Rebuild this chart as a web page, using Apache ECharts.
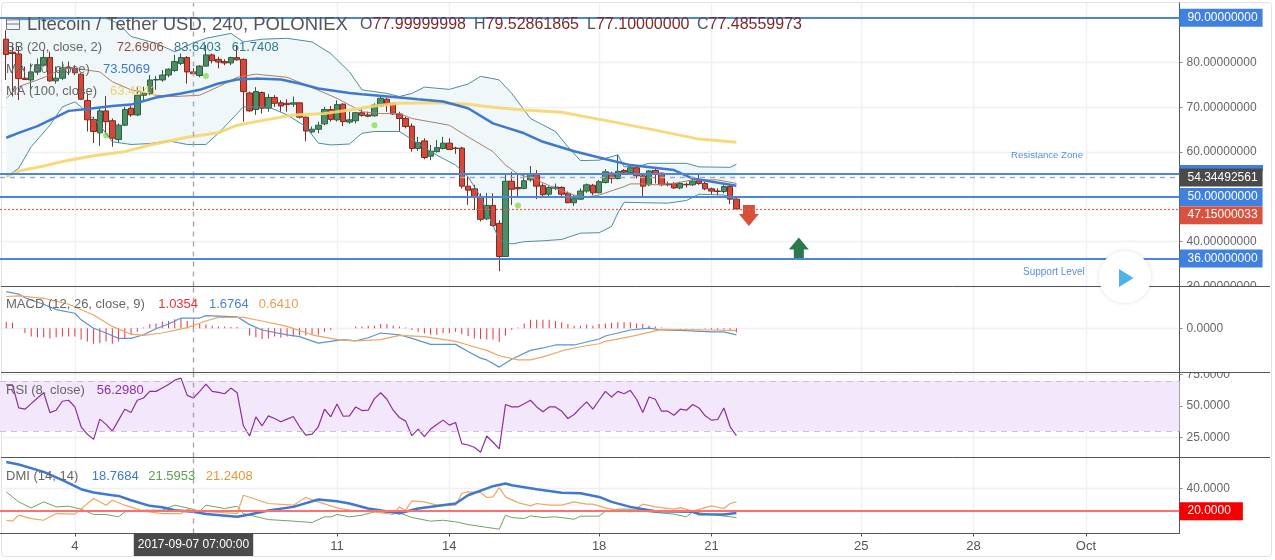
<!DOCTYPE html>
<html>
<head>
<meta charset="utf-8">
<style>html,body{margin:0;padding:0;background:#fff}#main{width:1275px;height:560px}</style>
<script src="https://cdn.jsdelivr.net/npm/echarts@6/dist/echarts.min.js"></script>
</head>
<body>
<div id="main"></div>
<script>
const FONT = '"Liberation Sans", Arial, sans-serif';

// x axis: one empty slot ahead of the first candle, candles are numbered from 0
const SLOT_COUNT = 190;
const tickCandles = [11, 53, 71, 95, 113, 137, 155, 173];
const tickLabels = ['4', '11', '14', '18', '21', '25', '28', 'Oct'];
const crossCandle = 30;
const crossLabel = '2017-09-07 07:00:00';

// open, close, low, high
const candles = [
  [85.2,81.8,76.1,87.2],[82.3,82.0,72.4,84.3],[81.9,76.4,71.6,83.5],[76.5,76.2,76.1,79.1],[76.1,77.9,73.9,79.8],
  [77.9,79.4,77.2,80.9],[79.4,81.1,79.1,82.8],[81.1,75.9,75.7,82.4],[75.9,76.5,75.3,79.1],[76.5,78.8,76.1,80.2],
  [78.8,78.7,77.2,80.2],[78.7,77.7,77.2,79.4],[77.4,71.8,71.6,77.6],[71.5,67.2,64.6,73.1],[67.3,64.6,62.0,67.9],
  [64.3,69.2,61.4,70.1],[69.2,66.8,64.2,72.5],[67.0,63.1,61.2,67.5],[62.8,66.0,62.0,66.4],[66.0,69.5,65.8,70.1],
  [69.8,68.3,67.9,70.3],[68.3,72.7,68.0,74.6],[72.7,73.3,71.2,74.6],[73.1,76.1,72.7,77.2],[76.1,76.2,73.9,77.0],
  [76.1,77.2,75.7,78.3],[77.2,78.5,76.7,78.7],[78.2,80.2,77.9,81.7],[79.8,81.1,79.4,82.0],[81.1,77.9,75.3,81.4],
  [77.9,77.5,77.2,78.7],[77.1,79.2,76.7,79.4],[79.2,81.7,79.1,83.9],[81.7,80.4,79.8,82.0],[80.7,80.1,78.7,81.3],
  [80.2,79.9,79.4,80.7],[79.9,81.1,79.4,81.3],[81.1,80.6,80.4,83.9],[80.7,73.5,66.8,80.9],[73.2,69.2,69.0,73.5],
  [69.5,73.5,68.3,74.5],[73.3,69.8,68.6,73.5],[69.8,72.2,69.0,73.0],[72.2,70.9,70.1,72.7],[71.0,70.3,69.0,71.6],
  [70.9,70.6,69.0,71.8],[70.7,71.0,70.1,72.4],[71.0,67.8,67.5,71.0],[67.8,64.7,62.4,67.9],[64.5,65.1,64.2,65.7],
  [65.1,66.0,64.2,66.8],[66.3,69.5,66.0,70.1],[69.5,67.3,66.8,70.3],[67.2,70.6,66.8,71.6],[70.7,66.8,65.8,70.9],
  [66.7,67.2,66.3,69.0],[67.0,68.8,66.4,69.0],[68.8,68.2,67.9,69.8],[68.3,68.0,67.8,69.0],[68.1,70.5,67.9,70.9],
  [70.3,72.0,70.1,72.4],[71.8,70.7,69.0,72.1],[70.9,68.5,68.3,70.9],[68.5,67.5,64.6,69.0],[67.5,65.7,65.3,67.9],
  [65.8,60.8,60.1,66.4],[60.8,62.1,60.3,63.4],[62.5,58.8,58.4,63.1],[59.1,60.2,58.2,61.6],[60.1,61.0,59.9,62.7],
  [60.8,62.0,60.6,63.4],[62.0,60.6,60.5,63.1],[60.9,60.8,59.6,61.2],[60.9,52.4,51.9,61.2],[52.4,51.5,48.2,54.5],
  [51.8,50.1,47.1,52.7],[50.1,45.0,44.5,50.8],[45.1,48.1,44.8,50.9],[48.1,43.6,43.4,50.8],[44.1,36.7,33.4,44.8],
  [36.7,53.5,36.7,55.3],[53.5,51.7,48.2,55.6],[52.1,51.8,50.1,55.3],[51.9,53.6,51.7,55.3],[53.8,55.0,53.4,56.9],
  [55.0,52.4,49.5,56.0],[52.5,50.5,50.1,53.0],[50.6,52.1,50.2,52.4],[51.9,52.2,51.5,53.0],[52.1,50.6,50.1,52.4],
  [50.8,48.7,48.6,51.2],[48.7,49.6,48.0,50.4],[49.5,51.3,49.3,51.9],[51.3,52.7,50.9,53.0],[52.6,50.9,50.4,52.9],
  [50.9,53.4,50.8,53.8],[53.2,55.6,53.0,56.2],[55.3,54.1,53.0,55.6],[54.1,55.7,53.9,59.4],[55.9,55.5,54.9,56.2],
  [55.4,56.5,55.1,56.9],[56.5,54.7,54.1,56.8],[54.7,52.4,50.2,54.9],[52.7,55.8,52.4,56.0],[55.9,55.1,53.0,56.2],
  [55.3,52.7,52.4,55.4],[52.9,52.7,52.4,53.4],[53.0,52.0,51.8,53.3],[52.0,53.0,51.7,53.4],[52.8,52.7,52.1,53.2],
  [52.7,53.5,52.4,54.5],[53.6,53.0,52.7,55.1],[53.0,51.8,51.5,53.4],[51.8,51.3,50.6,52.1],[51.3,51.2,50.4,51.9],
  [51.2,52.3,50.8,52.7],[52.3,49.5,48.4,52.7],[49.5,47.3,47.2,49.7]
];

// overlays as [candle number, value], read at the turning points of each line
const bbUpper = [[0,89.5],[16,89.9],[18,88.7],[20,85.8],[24,84.3],[27,82.4],[30,84.4],[32,85.4],[36,86.5],[38,84.6],[41,85.2],[45,85.4],[49,84.6],[52,82],[55,77.9],[57,73.9],[61,73.1],[63,72.4],[65,73.1],[67,74.5],[71,74],[74,75.2],[76,76.9],[78,76.4],[79,76.1],[81,73.1],[84,67.5],[88,64.6],[90,61.2],[92,58.1],[95,58.2],[98,59.4],[99,56.7],[102,57.1],[103,57.5],[109,57.5],[111,56.7],[116,56.6],[117,57.3]];
const bbLower = [[0,54.5],[2,56.4],[4,61.2],[7,66],[9,70.1],[11,71.2],[12,70.1],[15,66],[17,62.3],[20,61.7],[23,61.9],[26,62.5],[29,61.7],[32,61.7],[34,64.2],[37,68.6],[38,70.1],[42,70.1],[45,68.3],[48,65.7],[50,62],[52,61.6],[55,61.8],[57,64.2],[59,64.6],[63,64.6],[69,59.3],[72,57.1],[74,54.5],[76,50],[79,40.4],[81,39.5],[83,40],[86,40.2],[89,40.5],[92,41.9],[95,42],[97,43.4],[98,46.4],[99,48.8],[102,48.7],[106,48.6],[109,49.2],[111,50.6],[115,50.4],[116,50],[117,49.6]];
const bbMiddle = [[0,72],[2,74.6],[5,76.1],[7,77.2],[9,78.7],[12,78.5],[15,77.9],[17,75.7],[20,73.9],[24,72.7],[27,72.4],[31,72.7],[34,74.6],[37,76.7],[40,77.4],[45,76.7],[48,75],[53,72],[57,69],[60,68.6],[63,68.6],[65,67.5],[71,66],[74,63.4],[78,60.1],[80,57.1],[82,55.1],[85,53.8],[88,51.9],[91,50.4],[93,50],[95,50.4],[99,52.3],[100,52.9],[102,52.9],[104,52.7],[107,53],[110,53.8],[114,53.8],[117,53]];
const ma50 = [[0,63.2],[2,64.3],[5,65.8],[8,67.8],[10,69.2],[13,69.6],[17,70.3],[20,70.6],[24,72.2],[28,73.1],[31,73.9],[34,75.3],[37,76.2],[40,76.4],[44,76.2],[47,75.3],[50,74.2],[55,73.2],[57,72.9],[63,72.2],[66,71.8],[70,71.3],[74,69.8],[78,66.4],[83,64.2],[86,62.3],[91,60.2],[95,58.8],[100,57.1],[107,56],[110,54.1],[117,52.5]];
const ma100 = [[0,54.5],[2,55.8],[6,56.9],[10,58.2],[14,59.2],[19,60.1],[23,61.6],[29,63.3],[34,64.3],[37,66],[42,67.3],[46,68.3],[51,68.6],[55,69.4],[59,70.3],[63,70.9],[69,71],[74,70.7],[78,70],[83,69.4],[89,68.9],[97,66.8],[104,64.9],[111,62.9],[117,62.2]];
const signalDots = [[16,63.7],[32,77],[59,66],[82,48.1]];
const arrowDown = [[119,45.85]];
const arrowUp = [[127,38.6]];

const macdHist = [1.1,0.9,0,-0.8,-1.4,-1.5,-1.5,-1.7,-1.5,-1.4,-1.4,-1.4,-1.9,-2.2,-2.6,-2.5,-2.2,-2.6,-2.2,-1.7,-1.1,-0.6,0.1,0.7,0.8,1.1,1.2,1.5,1.6,1.2,1.0,0.7,0.6,0.4,0.3,0.3,0.2,0.2,0,-1.2,-1.5,-1.8,-1.7,-1.4,-1.6,-1.4,-1.4,-1.2,-1.2,-1.1,-1.1,-0.6,-0.3,0,0,0,0.3,0.3,0.4,0.4,0.7,0.7,0.4,0.3,0.1,-0.3,-0.6,-0.9,-1.1,-1.1,-0.8,-0.8,-0.6,-1,-1.3,-1.7,-1.8,-1.9,-1.9,-2.3,-1.2,-0.3,0.1,0.8,1.4,1.4,1.4,1.4,1.2,1,0.7,0.4,0.4,0.6,0.4,0.7,0.8,0.9,1,1,1,0.8,0.7,0.4,0.3,0.1,0,0,-0.05,-0.05,-0.05,-0.05,-0.1,-0.2,-0.2,-0.2,-0.3,-0.7];
const macdLine = [[0,6.1],[2,5.7],[3,5.1],[6,4],[8,3.1],[11,2.5],[12,1.4],[14,0],[16,-0.8],[18,-1.7],[20,-1.7],[22,-1.1],[24,-0.1],[26,0.7],[28,1.7],[31,1.7],[32,2.1],[37,1.9],[39,0.6],[41,-0.3],[45,-1.1],[47,-1.4],[50,-2.5],[52,-2.2],[54,-1.9],[56,-2.1],[58,-1.6],[60,-0.8],[63,-1.1],[65,-1.7],[68,-2.7],[72,-2.7],[74,-3.9],[76,-5],[77,-5.3],[79,-6.5],[81,-5.2],[84,-3.7],[86,-3.3],[88,-2.8],[91,-2.8],[95,-1.8],[96,-1.3],[100,-0.3],[103,0],[105,-0.3],[109,-0.4],[113,-0.6],[115,-0.6],[117,-1.1]];
const macdSignal = [[0,5.3],[2,5.4],[6,5],[10,4],[14,2.2],[17,0.3],[20,-1],[22,-1.2],[25,-0.8],[29,0.1],[32,1.2],[34,1.8],[38,1.8],[41,1.2],[45,0.3],[49,-1.1],[53,-1.9],[56,-2.1],[60,-1.9],[63,-1.2],[67,-1.4],[72,-2.2],[74,-2.8],[77,-3.7],[79,-4.6],[82,-5.3],[84,-5.3],[86,-4.8],[89,-3.8],[92,-3.1],[95,-2.6],[96,-2.2],[100,-1.4],[103,-0.7],[105,-0.2],[113,-0.3],[117,-0.4]];

const rsi = [66.8,66.8,48.4,47.4,51.8,56.3,60.5,44.7,46.6,53.7,54.5,49.2,33.4,27.4,23.4,39.5,35.3,30,38.7,47.4,44.7,54.5,56.3,61.6,61.6,64.2,67.1,70.5,72.1,58.4,56.3,61.6,67.4,61.6,60.8,59.7,64.2,60.5,34.2,26.1,41.3,34.2,42.1,40,37.4,39.5,41.6,33.4,26.8,27.6,33.4,47.4,41.3,51.6,41.8,42.1,49.2,46.3,46.6,55.8,60.5,55.3,46.6,40.8,37.9,26.3,31.6,25.5,31.6,35.3,38.7,34.7,36.8,20,18.9,17.1,13.2,26.1,21.1,15.8,51.1,49.2,49.2,51.8,54.5,49.2,45.3,49.2,49.2,45.8,40,43.2,48.4,53.2,47.4,54.5,61.6,57.1,61.6,59.7,62.4,55.3,44.7,57.1,55.3,45.8,45.8,42.6,47.4,46.6,51.1,48.4,42.1,38.7,39.2,48.4,33.4,26.3];

const dmiAdx = [[0,63.5],[2,61.2],[6,54.7],[9,47.4],[12,39.4],[14,36.5],[17,34.1],[18,33.5],[20,29.7],[23,24.7],[25,23.5],[27,20.9],[30,19.4],[32,17.6],[37,15],[39,17.1],[42,20.6],[46,23.8],[50,30.3],[53,28.8],[55,26.8],[58,22.4],[63,18.2],[66,22.4],[72,26.8],[74,34.1],[78,42.1],[80,44.4],[81,42.9],[85,39.4],[89,36.2],[92,35.9],[95,32.6],[97,28.2],[100,23.8],[104,20],[110,19.4],[111,17.4],[115,17.1],[117,18.5]];
const dmiPlus = [[0,37.1],[2,28.2],[4,22.9],[6,28.2],[8,23.8],[10,24.4],[12,21.8],[14,17.1],[16,17.1],[18,15],[19,19.4],[22,20.9],[25,20.9],[27,25.3],[29,22.9],[31,20],[32,25.3],[35,22.4],[37,24.4],[38,17.9],[42,12.6],[46,11.2],[49,10],[51,15],[52,15],[53,17.1],[55,15],[57,16.5],[59,19.4],[63,18.5],[65,14.4],[68,11.2],[70,12],[72,10.6],[74,8.2],[79,4.1],[80,16.5],[81,14.4],[83,13.5],[84,15.9],[86,14.4],[88,15],[91,12.9],[92,15.6],[95,15.6],[96,20],[98,21.8],[101,21.8],[103,19.4],[107,17.4],[109,15],[110,19.4],[113,17.1],[117,14.4]];
const dmiMinus = [[0,12],[1,11.2],[2,16.5],[4,13.5],[6,12],[8,17.9],[11,17.4],[14,31.2],[16,25.3],[17,29.7],[19,25.3],[22,20],[25,17.9],[28,17.9],[29,21.8],[31,19.4],[33,19.4],[37,17.9],[38,34.1],[42,26.8],[46,25.3],[48,32.1],[50,28.2],[53,22.9],[56,20],[59,19.4],[62,17.1],[63,23.8],[64,20.9],[65,29.1],[67,28.2],[69,25.3],[72,25.3],[73,35.6],[74,37.1],[76,36.5],[77,32.1],[78,32.6],[79,40.9],[80,32.6],[82,27.6],[84,24.7],[85,26.8],[87,25.3],[89,25.3],[91,28.2],[93,26.2],[94,26.2],[96,22.9],[98,20.9],[100,19.4],[102,26.2],[104,23.8],[107,21.8],[108,23.2],[110,20],[113,24.7],[115,22.4],[116,26.8],[117,28.2]];

// tick values of the right hand scales
const priceTicks = [30, 40, 50, 60, 70, 80, 90];
const macdTicks = [0];
const rsiTicks = [25, 50, 75];
const dmiTicks = [20, 40];

const slotNames = Array.from({ length: SLOT_COUNT }, (_, i) => String(i));
const tickSlots = tickCandles.map(i => i + 1);
const crossSlot = crossCandle + 1;
const slotted = pts => pts.map(p => [p[0] + 1, p[1]]);

const GREY = '#666';
const GRID_LINE = '#eef0f3';
const AXIS_DARK = '#555';
const BLUE = '#4a86d9';
const BLUE_TAG = '#3f80e0';

const panes = [
  { top: 3, height: 283.5, min: 30, max: 93.28, ticks: priceTicks, digits: 8 },
  { top: 286.5, height: 86, min: -7.4, max: 6.97, ticks: macdTicks, digits: 4 },
  { top: 372.5, height: 85, min: 8.96, max: 76.6, ticks: rsiTicks, digits: 4 },
  { top: 457.5, height: 76, min: 0.3, max: 67.4, ticks: dmiTicks, digits: 4 }
];

function crossLine() {
  return { xAxis: String(crossSlot), lineStyle: { color: '#a8a8a8', type: [5, 5], width: 1.4 }, label: { show: false } };
}

function priceLine(value, color, width, type, tag, tagColor, tagOffset) {
  return {
    yAxis: value,
    lineStyle: { color: color, width: width, type: type },
    label: tag ? {
      show: true, position: 'end', distance: 0, formatter: tag,
      color: '#fff', backgroundColor: tagColor,
      padding: [3, 5, 3, 8], fontSize: 12, fontFamily: FONT, offset: tagOffset || [0, 0]
    } : { show: false }
  };
}

function lineSeries(pts, color, width, grid, opacity) {
  return {
    type: 'line', xAxisIndex: grid, yAxisIndex: grid, data: slotted(pts),
    symbol: 'none', silent: true, lineStyle: { color: color, width: width, opacity: opacity == null ? 1 : opacity }
  };
}

function bandRender(params, api) {
  const upper = slotted(bbUpper).map(p => api.coord(p));
  const lower = slotted(bbLower).map(p => api.coord(p)).reverse();
  return { type: 'polygon', shape: { points: upper.concat(lower) }, style: { fill: '#eff7f8' } };
}

function legendText(x, y, text, color, size) {
  return {
    type: 'text', x: x, y: y, z: 60, silent: true,
    style: { text: text, fill: color, font: (size || 13) + 'px ' + FONT, verticalAlign: 'middle' }
  };
}

function separator(y, x2) {
  return { type: 'line', z: 62, silent: true, shape: { x1: 1, y1: y, x2: x2, y2: y }, style: { stroke: AXIS_DARK, lineWidth: 1 } };
}

function maskRect(y, h) {
  return { type: 'rect', z: 61, silent: true, shape: { x: 1180.5, y: y, width: 90, height: h }, style: { fill: '#fff' } };
}

const chart = echarts.init(document.getElementById('main'), null, { renderer: 'canvas' });

chart.setOption({
  animation: false,
  backgroundColor: '#fff',
  grid: panes.map(p => ({ left: 0, width: 1179.5, top: p.top, height: p.height })),
  xAxis: panes.map((p, idx) => ({
    type: 'category', gridIndex: idx, data: slotNames, boundaryGap: false,
    axisLine: { show: idx === 3, onZero: false, lineStyle: { color: AXIS_DARK } },
    axisTick: { show: idx === 3, length: 3, lineStyle: { color: AXIS_DARK }, interval: i => tickSlots.includes(i) },
    axisLabel: {
      show: idx === 3, margin: 6, color: AXIS_DARK, fontSize: 13, fontFamily: FONT,
      interval: i => tickSlots.includes(i),
      formatter: v => tickLabels[tickSlots.indexOf(+v)] || ''
    },
    splitLine: { show: true, interval: i => tickSlots.includes(i), lineStyle: { color: GRID_LINE, width: 1.4 } }
  })),
  yAxis: panes.map((p, idx) => ({
    type: 'value', gridIndex: idx, position: 'right', min: p.min, max: p.max,
    axisLine: { show: true, onZero: false, lineStyle: { color: AXIS_DARK } },
    axisTick: { show: true, length: 3, customValues: p.ticks, lineStyle: { color: '#888' } },
    axisLabel: {
      margin: 7, color: GREY, fontSize: 12, fontFamily: FONT, customValues: p.ticks,
      padding: [2, 0, 0, 0], showMinLabel: true, showMaxLabel: true,
      formatter: v => v.toFixed(p.digits)
    },
    splitLine: { show: true, lineStyle: { color: GRID_LINE, width: 1.4 } }
  })),
  series: [
    // main pane
    { type: 'custom', xAxisIndex: 0, yAxisIndex: 0, data: [[0, 0]], renderItem: bandRender, silent: true, clip: true },
    lineSeries(bbUpper, '#4f8e9e', 1, 0),
    lineSeries(bbLower, '#4f8e9e', 1, 0),
    lineSeries(bbMiddle, '#ad7f6c', 1, 0),
    {
      type: 'candlestick', xAxisIndex: 0, yAxisIndex: 0, barWidth: 6, silent: true,
      data: ['-'].concat(candles),
      itemStyle: { color: '#4f8d66', color0: '#d8483a', borderColor: '#2f5f43', borderColor0: '#7c2c22', borderWidth: 1 },
      markLine: {
        symbol: 'none', silent: true, animation: false,
        data: [
          crossLine(),
          priceLine(90, BLUE, 2, 'solid', '90.00000000', BLUE_TAG),
          priceLine(55.25, BLUE, 2, 'solid'),
          priceLine(54.34492561, '#aaaaaa', 1.4, [5, 5], '54.34492561', '#4a4a4a'),
          priceLine(50, BLUE, 2, 'solid', '50.00000000', BLUE_TAG),
          priceLine(47.15000033, '#e2604c', 1.2, [2, 2], '47.15000033', '#d9523f', [0, 5.5]),
          priceLine(36.25, BLUE, 2, 'solid', '36.00000000', BLUE_TAG)
        ]
      }
    },
    lineSeries(ma100, '#f6d56e', 3, 0, 0.9),
    lineSeries(ma50, '#3f78cc', 2.5, 0),
    {
      type: 'scatter', xAxisIndex: 0, yAxisIndex: 0, data: slotted(signalDots), symbolSize: 6, silent: true,
      itemStyle: { color: '#93d94e' }
    },
    {
      type: 'scatter', xAxisIndex: 0, yAxisIndex: 0, data: slotted(arrowDown), silent: true,
      symbol: 'path://M4,0 H16 V9 H20 L10,21 L0,9 H4 Z', symbolSize: [20, 21], itemStyle: { color: '#d9503a', opacity: 1 }
    },
    {
      type: 'scatter', xAxisIndex: 0, yAxisIndex: 0, data: slotted(arrowUp), silent: true,
      symbol: 'path://M10,0 L20,12 H15 V21 H5 V12 H0 Z', symbolSize: [20, 21], itemStyle: { color: '#2c7a4b', opacity: 1 }
    },
    // MACD pane
    {
      type: 'bar', xAxisIndex: 1, yAxisIndex: 1, barWidth: 1, silent: true,
      data: ['-'].concat(macdHist), itemStyle: { color: '#e8323c' },
      markLine: { symbol: 'none', silent: true, animation: false, data: [crossLine()] }
    },
    lineSeries(macdLine, '#5b93d3', 1.2, 1),
    lineSeries(macdSignal, '#eba765', 1.2, 1),
    // RSI pane
    {
      type: 'line', xAxisIndex: 2, yAxisIndex: 2, data: ['-'].concat(rsi), symbol: 'none', silent: true,
      lineStyle: { color: '#8e2f9e', width: 1.2 },
      markArea: { silent: true, animation: false, itemStyle: { color: '#f3e7fc' }, data: [[{ yAxis: 30 }, { yAxis: 70 }]] },
      markLine: {
        symbol: 'none', silent: true, animation: false,
        data: [
          crossLine(),
          { yAxis: 70, lineStyle: { color: '#cdbfdc', type: [6, 5], width: 1 }, label: { show: false } },
          { yAxis: 30, lineStyle: { color: '#cdbfdc', type: [6, 5], width: 1 }, label: { show: false } }
        ]
      }
    },
    // DMI pane
    lineSeries(dmiPlus, '#6da75c', 1, 3),
    lineSeries(dmiMinus, '#eba765', 1.2, 3),
    Object.assign(lineSeries(dmiAdx, '#3f78cc', 2.5, 3), {
      markLine: {
        symbol: 'none', silent: true, animation: false,
        data: [
          crossLine(),
          {
            yAxis: 20, lineStyle: { color: '#ff6f6f', width: 2, type: 'solid' },
            label: {
              show: true, position: 'end', distance: 0, formatter: '20.0000', color: '#fff',
              backgroundColor: '#f40000', padding: [3, 12, 3, 8], fontSize: 12, fontFamily: FONT
            }
          }
        ]
      }
    })
  ],
  graphic: [
    { type: 'rect', z: 0, silent: true, shape: { x: 1.5, y: 2.5, width: 1270, height: 554, r: 3 }, style: { fill: 'none', stroke: '#e2e2e2', lineWidth: 1 } },
    { type: 'rect', z: 1, silent: true, shape: { x: 1179.5, y: 165, width: 83.5, height: 6 }, style: { fill: BLUE_TAG } },
    { type: 'rect', z: 60, silent: true, shape: { x: 6.5, y: 18.5, width: 13, height: 11 }, style: { fill: 'none', stroke: '#777', lineWidth: 1 } },
    { type: 'line', z: 60, silent: true, shape: { x1: 7, y1: 24, x2: 19, y2: 24 }, style: { stroke: '#777', lineWidth: 1 } },
    legendText(27, 25, 'Litecoin / Tether USD, 240, POLONIEX', '#555', 18.5),
    legendText(360, 25, 'O', '#555', 16), legendText(372.5, 25, '77.99999998', '#7b2a2a', 16),
    legendText(474, 25, 'H', '#555', 16), legendText(485.5, 25, '79.52861865', '#7b2a2a', 16),
    legendText(587, 25, 'L', '#555', 16), legendText(596, 25, '77.10000000', '#7b2a2a', 16),
    legendText(697, 25, 'C', '#555', 16), legendText(708.5, 25, '77.48559973', '#7b2a2a', 16),
    legendText(6, 47, 'BB (20, close, 2)', '#666'),
    legendText(116.7, 47, '72.6906', '#8f4f3f'), legendText(174, 47, '83.6403', '#2f7d8f'), legendText(231.7, 47, '61.7408', '#2f7d8f'),
    legendText(6, 69, 'MA (50, close)', '#666'), legendText(103, 69, '73.5069', '#3f78cc'),
    legendText(6, 91, 'MA (100, close)', '#666'), legendText(110, 91, '63.4841', '#f3d06a'),
    legendText(6, 304, 'MACD (12, 26, close, 9)', '#666'),
    legendText(158.3, 304, '1.0354', '#e8323c'), legendText(209, 304, '1.6764', '#4a86c8'), legendText(258.7, 304, '0.6410', '#e8a050'),
    legendText(6, 390, 'RSI (8, close)', '#666'), legendText(96.7, 390, '56.2980', '#8e2f9e'),
    legendText(6, 476, 'DMI (14, 14)', '#666'),
    legendText(91.7, 476, '18.7684', '#3f78cc'), legendText(148.3, 476, '21.5953', '#5c9e4a'), legendText(205.7, 476, '21.2408', '#e8943a'),
    legendText(1011, 155, 'Resistance Zone', '#5a8fd8', 9.6),
    legendText(1023, 272, 'Support Level', '#5a8fd8', 10),
    maskRect(287, 10),
    maskRect(360, 12.5),
    separator(286.5, 1270),
    separator(372.5, 1270),
    separator(457.5, 1270),
    {
      type: 'circle', z: 63, silent: true, shape: { cx: 1125, cy: 277, r: 26 },
      style: { fill: '#fff', shadowBlur: 5, shadowColor: 'rgba(0,0,0,0.12)' }
    },
    {
      type: 'polygon', z: 64, silent: true, shape: { points: [[1119, 269], [1133.5, 278], [1119, 287]] },
      style: { fill: '#4db2e8' }
    },
    {
      type: 'text', z: 64, silent: true, x: 193.5, y: 544.5,
      style: {
        text: crossLabel, fill: '#fff', font: '12px ' + FONT, align: 'center', verticalAlign: 'middle',
        backgroundColor: '#4a4a4a', padding: [6, 4, 5, 4]
      }
    }
  ]
});
</script>
</body>
</html>
